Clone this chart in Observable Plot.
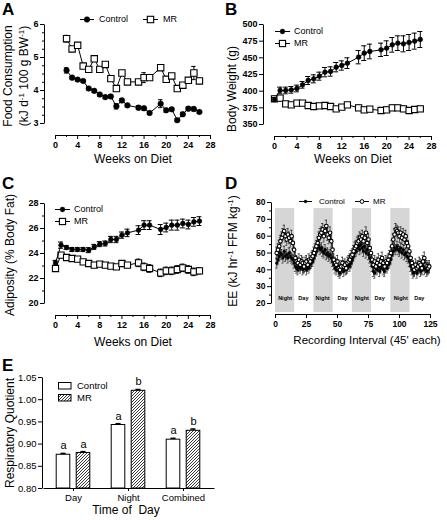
<!DOCTYPE html>
<html><head><meta charset="utf-8">
<script src="https://cdn.jsdelivr.net/npm/d3@7"></script>
<script src="https://cdn.jsdelivr.net/npm/@observablehq/plot@0.6"></script>
<style>
html,body{margin:0;padding:0;background:#fff;}
#fig{position:relative;width:447px;height:520px;overflow:hidden;background:#fff;font-family:"Liberation Sans",Arial,sans-serif;}
#fig svg{position:absolute;left:0;top:0;}
</style></head><body>
<div id="fig"></div>
<script>
const W = 447, H = 520;
const FONT = "Liberation Sans, Arial, sans-serif";

// ---------- Panel A: food consumption ----------
const weeksA = [2,3,4,5,6,7,8,9,10,11,12,13,15,16,17,19,20,21,22,23,24,25,26];
const foodControl = [4.61,4.39,4.33,4.29,4.06,3.99,3.88,3.80,3.82,3.52,3.70,3.55,3.48,3.46,3.32,3.60,3.40,3.43,3.10,3.28,3.45,3.44,3.35];
const foodControlSem = [0.08,0.04,0.04,0.04,0.04,0.05,0.05,0.05,0.05,0.08,0.05,0.05,0.06,0.06,0.05,0.12,0.06,0.05,0.05,0.06,0.05,0.06,0.05];
const foodMR = [5.57,5.26,5.37,4.74,4.64,4.96,4.64,4.79,4.36,4.06,4.53,4.26,4.26,4.39,4.39,4.69,4.34,4.44,4.06,4.16,4.31,4.53,4.29];
const foodMRSem = [0.10,0.05,0.05,0.05,0.05,0.06,0.06,0.06,0.07,0.08,0.06,0.05,0.05,0.15,0.06,0.07,0.06,0.06,0.05,0.06,0.06,0.20,0.08];

// ---------- Panels B & C ----------
const weeksBC = [0,1,2,3,4,5,6,7,8,9,10,11,12,13,15,16,17,19,20,21,22,23,24,25,26];
const bwControl = [387.5,401,401,402,404,409.5,416,418.5,422.5,428.5,429.5,436,438.5,442,451,457,459.5,462,464.5,469.5,472,471,473,475,477.5];
const bwControlSem = [3,5,5,5,5,5,6,6,6,7,7,7,7,8,10,11,11,10,11,11,11,12,12,12,12];
const bwMR = [388.5,389.5,381,379.5,382,382,378.5,377,378,378.5,377,373.5,376,379.5,375,372,373,371,372,375,375,373.5,371,372.5,373.5];
const bwMRSem = [4,4,3,3,3,3,3,3,3,3,3,3,3,3,4,4,4,4,4,4,4,4,4,4,4];
const fatControl = [23.25,24.67,24.48,24.32,24.32,24.32,24.27,24.53,24.75,24.8,25.12,25.12,25.47,25.65,25.87,26.27,26.27,25.92,26.08,26.27,26.27,26.4,26.32,26.53,26.59];
const fatControlSem = [0.2,0.25,0.15,0.15,0.15,0.15,0.2,0.2,0.2,0.2,0.25,0.25,0.25,0.3,0.35,0.35,0.35,0.4,0.35,0.4,0.4,0.35,0.35,0.35,0.35];
const fatMR = [22.8,23.87,23.68,23.6,23.55,23.33,23.2,23.07,23.15,23.07,22.99,22.93,23.2,23.07,23.25,22.93,22.8,22.45,22.61,22.61,22.72,22.85,22.72,22.53,22.61];
const fatMRSem = [0.2,0.2,0.15,0.15,0.15,0.15,0.15,0.15,0.15,0.15,0.15,0.15,0.2,0.2,0.3,0.3,0.3,0.3,0.3,0.3,0.3,0.3,0.3,0.3,0.25];

// ---------- Panel D: energy expenditure ----------
const eeInterval = d3.range(1, 125);
const eeMR = [
 50,52,54,57,59,61,63,60,58,61,59,57,60,56,52,
 47,45,44,46,43,45,44,42,44,45,43,46,45,47,48,50,
 52,54,56,59,61,62,64,60,63,66,61,59,62,57,52,
 46,44,43,45,41,40,42,44,42,43,41,44,45,46,48,49,
 51,53,54,56,57,59,58,60,57,59,62,56,58,53,50,
 46,43,45,42,44,46,43,45,47,44,42,45,44,46,48,50,
 54,58,61,64,63,62,60,62,59,61,58,60,56,54,51,
 47,44,42,40,43,41,42,44,43,41,45,47,43,42,41,42];
const eeControl = [
 44,46,48,50,49,47,51,48,49,47,50,48,47,46,44,
 42,41,40,42,41,43,40,41,42,40,42,41,43,44,45,47,
 49,51,53,54,52,53,51,50,52,49,50,48,49,47,45,
 43,41,40,42,39,38,40,41,39,42,40,41,43,42,44,46,
 48,50,51,53,54,52,55,53,51,54,50,52,49,47,45,
 42,39,38,41,40,42,39,41,43,40,39,42,41,43,44,46,
 49,51,53,52,54,52,51,53,50,52,49,50,48,47,45,
 42,40,38,39,41,38,40,41,39,40,42,40,41,39,40,41];
const eeControlSem = 3;
const eeMRSem = 3.5;
const nightStart = [0, 31, 62, 93];
const nightEnd = [15.5, 46.5, 77.5, 108.5];
const phaseLabels = ["Night","Day","Night","Day","Night","Day","Night","Day"];
const phaseCenters = [7.8, 22.5, 38, 54, 69.6, 84, 101, 116];

// ---------- Panel E: respiratory quotient ----------
const rqTimes = ["Day","Night","Combined"];
const rqControl = [0.876, 0.943, 0.910];
const rqControlSem = [0.003, 0.003, 0.003];
const rqMR = [0.880, 1.020, 0.930];
const rqMRSem = [0.003, 0.003, 0.004];
const rqControlLetters = ["a","a","a"];
const rqMRLetters = ["a","b","b"];

// ---------- helpers ----------
const rows = (xs, vs, es) => xs.map((x, i) => ({x, v: vs[i], e: Array.isArray(es) ? es[i] : es}));
const fig = d3.select("#fig");

// hatch pattern defs
fig.append("svg").attr("width", 0).attr("height", 0).html(
  `<defs><pattern id="hatch" patternUnits="userSpaceOnUse" width="3" height="3">
     <rect width="3" height="3" fill="white"/>
     <path d="M-1,1 l2,-2 M0,3 l3,-3 M2,4 l2,-2" stroke="#222" stroke-width="0.9"/>
   </pattern></defs>`);

function axisLines(svg, {xd, yd, left, bottom, band}) {
  const xs = svg.scale("x"), ys = svg.scale("y");
  const g = d3.select(svg).append("g").attr("stroke", "black").attr("stroke-width", 1);
  const xa = band ? xs.range : [xs.apply(xd[0]), xs.apply(xd[1])];
  g.append("line").attr("x1", xa[0] + 0.5).attr("x2", xa[1] + 0.5).attr("y1", bottom + 0.5).attr("y2", bottom + 0.5);
  g.append("line").attr("x1", left + 0.5).attr("x2", left + 0.5).attr("y1", ys.apply(yd[0]) + 0.5).attr("y2", ys.apply(yd[1]) + 0.5);
}

function seriesMarks(data, {capHalf, filled, symbol, r, sw = 1, ebw = 1}) {
  return [
    Plot.ruleX(data, {x: "x", y1: d => d.v - d.e, y2: d => d.v + d.e, stroke: "black", strokeWidth: ebw}),
    Plot.ruleY(data, {y: d => d.v + d.e, x1: d => d.x - capHalf, x2: d => d.x + capHalf, stroke: "black", strokeWidth: ebw}),
    Plot.ruleY(data, {y: d => d.v - d.e, x1: d => d.x - capHalf, x2: d => d.x + capHalf, stroke: "black", strokeWidth: ebw}),
    Plot.line(data, {x: "x", y: "v", stroke: "black", strokeWidth: sw}),
    Plot.dot(data, {x: "x", y: "v", r, symbol, fill: filled ? "black" : "white", stroke: "black", strokeWidth: filled ? 0.5 : 1.1})
  ];
}

function linePanel({left, top, bottom, right, x, y, xTicks, xMinor, yTicks, yMinor, yFormat, fontSize = 9, marks}) {
  const svg = Plot.plot({
    width: W, height: H,
    marginLeft: left, marginTop: top, marginBottom: H - bottom, marginRight: W - right,
    x, y,
    style: {background: "transparent", fontFamily: FONT, fontSize: fontSize + "px", fontWeight: "bold", color: "black", overflow: "visible"},
    marks: [
      ...marks,
      Plot.axisX(xTicks, {tickSize: 4, tickPadding: 2, label: null}),
      xMinor ? Plot.axisX(xMinor, {tickSize: 2, tickFormat: () => "", label: null}) : null,
      Plot.axisY(yTicks, {tickSize: 4, tickPadding: 2, tickFormat: yFormat, label: null}),
      yMinor ? Plot.axisY(yMinor, {tickSize: 2, tickFormat: () => "", label: null}) : null
    ]
  });
  axisLines(svg, {xd: x.domain, yd: y.domain, left, bottom});
  fig.node().appendChild(svg);
  return svg;
}

// ---------- Panel A ----------
linePanel({
  left: 44, top: 24, bottom: 135, right: 210,
  x: {domain: [0, 28], range: [55, 210]},
  y: {domain: [3, 6], range: [123, 24]},
  xTicks: d3.range(0, 29, 4), xMinor: d3.range(2, 28, 4),
  yTicks: [3, 4, 5, 6], yMinor: [3.25,3.5,3.75,4.25,4.5,4.75,5.25,5.5,5.75],
  yFormat: d3.format("d"),
  marks: [
    ...seriesMarks(rows(weeksA, foodControl, foodControlSem), {capHalf: 0.4, filled: true, symbol: "circle", r: 2.8}),
    ...seriesMarks(rows(weeksA, foodMR, foodMRSem), {capHalf: 0.4, filled: false, symbol: "square", r: 3.6})
  ]
});

// ---------- Panel B ----------
linePanel({
  left: 263, top: 24, bottom: 136, right: 431,
  x: {domain: [0, 28], range: [274, 431]},
  y: {domain: [350, 500], range: [124, 24]},
  xTicks: d3.range(0, 29, 4), xMinor: d3.range(2, 28, 4),
  yTicks: d3.range(350, 501, 25),
  yFormat: d3.format("d"),
  marks: [
    ...seriesMarks(rows(weeksBC, bwMR, bwMRSem), {capHalf: 0.4, filled: false, symbol: "square", r: 3.5}),
    ...seriesMarks(rows(weeksBC, bwControl, bwControlSem), {capHalf: 0.45, filled: true, symbol: "circle", r: 2.4})
  ]
});

// ---------- Panel C ----------
linePanel({
  left: 44, top: 203, bottom: 315, right: 210,
  x: {domain: [0, 28], range: [55, 210]},
  y: {domain: [20, 28], range: [303, 203]},
  xTicks: d3.range(0, 29, 4), xMinor: d3.range(2, 28, 4),
  yTicks: [20, 22, 24, 26, 28], yMinor: [21, 23, 25, 27],
  yFormat: d3.format("d"),
  marks: [
    ...seriesMarks(rows(weeksBC, fatMR, fatMRSem), {capHalf: 0.4, filled: false, symbol: "square", r: 3.5}),
    ...seriesMarks(rows(weeksBC, fatControl, fatControlSem), {capHalf: 0.45, filled: true, symbol: "circle", r: 2.4})
  ]
});

// ---------- Panel D ----------
const bandBottom = 14.6, bandTop = 76.4, phaseLabelY = 23;
linePanel({
  left: 271, top: 202, bottom: 314, right: 430,
  fontSize: 8.5,
  x: {domain: [0, 125], range: [275, 430]},
  y: {domain: [20, 80], range: [303, 202]},
  xTicks: [0, 25, 50, 75, 100, 125],
  yTicks: d3.range(20, 81, 10), yMinor: d3.range(25, 80, 10),
  yFormat: d3.format("d"),
  marks: [
    Plot.rect(d3.range(nightStart.length), {x1: i => nightStart[i], x2: i => nightEnd[i], y1: bandBottom, y2: bandTop, fill: "#d6d6d6"}),
    Plot.text(d3.range(phaseLabels.length), {x: i => phaseCenters[i], y: phaseLabelY, text: i => phaseLabels[i], fontSize: 5.5, fontWeight: "bold"}),
    ...seriesMarks(rows(eeInterval, eeControl, eeControlSem), {capHalf: 0.9, filled: true, symbol: "circle", r: 1.3, sw: 0.7, ebw: 0.6}),
    ...seriesMarks(rows(eeInterval, eeMR, eeMRSem), {capHalf: 0.9, filled: false, symbol: "circle", r: 1.8, sw: 0.7, ebw: 0.6})
  ]
});

// ---------- Panel E ----------
{
  const ctrl = rqTimes.map((t, i) => ({t, v: rqControl[i], e: rqControlSem[i], l: rqControlLetters[i]}));
  const mr = rqTimes.map((t, i) => ({t, v: rqMR[i], e: rqMRSem[i], l: rqMRLetters[i]}));
  const rqDomain = [0.8, 1.05];
  const left = 42, bottom = 488;
  const svg = Plot.plot({
    width: W, height: H,
    marginLeft: left, marginTop: 377, marginBottom: H - bottom, marginRight: W - 214,
    x: {domain: rqTimes, range: [43, 214], paddingInner: 0.12, paddingOuter: 0.1},
    y: {domain: rqDomain, range: [488, 377]},
    style: {background: "transparent", fontFamily: FONT, fontSize: "9.5px", color: "black", overflow: "visible"},
    marks: [
      Plot.barY(ctrl, {x: "t", y1: rqDomain[0], y2: "v", fill: "white", stroke: "black", strokeWidth: 1, insetLeft: 7.2, insetRight: 27.2}),
      Plot.barY(mr, {x: "t", y1: rqDomain[0], y2: "v", fill: "url(#hatch)", stroke: "black", strokeWidth: 1, insetLeft: 27.2, insetRight: 7.2}),
      Plot.ruleX(ctrl, {x: "t", y1: "v", y2: d => d.v + d.e, dx: -10, stroke: "black"}),
      Plot.ruleX(mr, {x: "t", y1: "v", y2: d => d.v + d.e, dx: 10, stroke: "black"}),
      Plot.tickY(ctrl, {x: "t", y: d => d.v + d.e, insetLeft: 11.5, insetRight: 31.4, stroke: "black", strokeWidth: 1.5}),
      Plot.tickY(mr, {x: "t", y: d => d.v + d.e, insetLeft: 31.4, insetRight: 11.5, stroke: "black", strokeWidth: 1.5}),
      Plot.text(ctrl, {x: "t", y: d => d.v + d.e, text: "l", dx: -10, dy: -4, lineAnchor: "bottom", fontSize: 11}),
      Plot.text(mr, {x: "t", y: d => d.v + d.e, text: "l", dx: 10, dy: -4, lineAnchor: "bottom", fontSize: 11}),
      Plot.axisX({tickSize: 3, tickPadding: 3, label: null}),
      Plot.axisY(d3.range(0.8, 1.0501, 0.05), {tickSize: 4, tickPadding: 2, tickFormat: d3.format(".2f"), label: null})
    ]
  });
  axisLines(svg, {yd: rqDomain, left, bottom, band: true});
  fig.node().appendChild(svg);
}

// ---------- overlay: panel letters, axis titles, legends ----------
const ov = fig.append("svg").attr("width", W).attr("height", H).style("font-family", FONT);
function txt(x, y, s, {size = 12, weight = "normal", anchor = "middle", rotate = false} = {}) {
  const t = ov.append("text").attr("font-size", size).attr("font-weight", weight).attr("text-anchor", anchor).attr("fill", "black");
  if (rotate) t.attr("transform", `translate(${x},${y}) rotate(-90)`).attr("dy", "0.35em");
  else t.attr("x", x).attr("y", y);
  t.html(s);
  return t;
}
const sup = s => `<tspan dy="-4" font-size="8">${s}</tspan><tspan dy="4">`;

[["A", 2, 15], ["B", 225, 15], ["C", 2, 189], ["D", 225, 189], ["E", 2, 371]]
  .forEach(([s, x, y]) => txt(x, y, s, {size: 17, weight: "bold", anchor: "start"}));

txt(8, 76, "Food Consumption", {rotate: true});
txt(24, 76, `(kJ d${sup("-1")} 100 g BW</tspan>${sup("-1")})</tspan>`, {rotate: true});
txt(133, 163, "Weeks on Diet");
txt(232, 89, "Body Weight (g)", {rotate: true});
txt(353, 163, "Weeks on Diet");
txt(10, 255, "Adiposity (% Body Fat)", {rotate: true});
txt(133, 346, "Weeks on Diet");
txt(233, 251, `EE (kJ hr${sup("-1")} FFM kg</tspan>${sup("-1")})</tspan>`, {rotate: true});
txt(367, 344, "Recording Interval (45' each)", {size: 11.5});
txt(10, 433, "Respiratory Quotient", {rotate: true});
txt(126, 514, "Time of&#160; Day");

function legendItem(x0, x1, y, marker, r, label, tx, size = 9) {
  ov.append("line").attr("x1", x0).attr("x2", x1).attr("y1", y + 0.5).attr("y2", y + 0.5).attr("stroke", "black").attr("stroke-width", 1);
  const cx = (x0 + x1) / 2;
  if (marker === "square") {
    ov.append("rect").attr("x", cx - r).attr("y", y + 0.5 - r).attr("width", 2 * r).attr("height", 2 * r).attr("fill", "white").attr("stroke", "black").attr("stroke-width", 1.1);
  } else {
    ov.append("circle").attr("cx", cx).attr("cy", y + 0.5).attr("r", r).attr("fill", marker === "dot" ? "black" : "white").attr("stroke", "black").attr("stroke-width", marker === "dot" ? 0.5 : 1);
  }
  txt(tx, y + size * 0.36, label, {size, anchor: "start"});
}
legendItem(80, 94, 19, "dot", 2.8, "Control", 99);
legendItem(143, 158, 19, "square", 3.2, "MR", 163);
legendItem(275, 290, 31, "dot", 2.4, "Control", 294);
legendItem(275, 290, 43, "square", 3.1, "MR", 294);
legendItem(55, 70, 209, "dot", 2.4, "Control", 74);
legendItem(55, 70, 221, "square", 3.1, "MR", 74);
legendItem(299, 312, 201, "dot", 1.4, "Control", 319, 8);
legendItem(355, 369, 201, "open", 1.9, "MR", 373, 8);

ov.append("rect").attr("x", 58.5).attr("y", 382.5).attr("width", 12.5).attr("height", 6.5).attr("fill", "white").attr("stroke", "black");
txt(77, 389, "Control", {size: 9.5, anchor: "start"});
ov.append("rect").attr("x", 58.5).attr("y", 394.5).attr("width", 12.5).attr("height", 6.5).attr("fill", "url(#hatch)").attr("stroke", "black");
txt(77, 401, "MR", {size: 9.5, anchor: "start"});
</script></body></html>
